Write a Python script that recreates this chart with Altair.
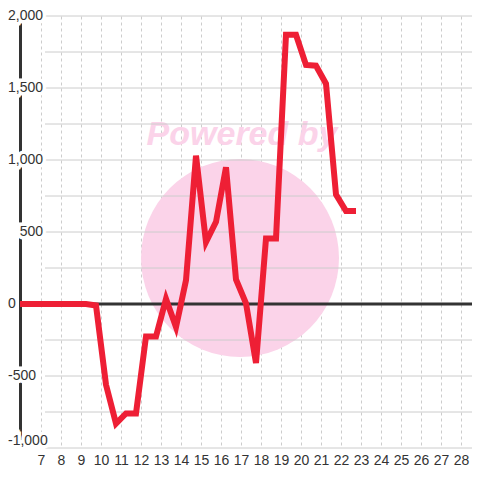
import altair as alt
import pandas as pd

# ---- data ----
x_vals = [5.95, 6.75, 7.25, 7.75, 8.25, 8.75, 9.25,
          9.75, 10.25, 10.75, 11.25, 11.75, 12.25, 12.75, 13.25, 13.75,
          14.25, 14.75, 15.25, 15.75, 16.25, 16.75, 17.25, 17.75, 18.25,
          18.75, 19.25, 19.75, 20.25, 20.75, 21.25, 21.75, 22.25, 22.75]
y_vals = [0, 0, 0, 0, 0, 0, 0,
          -10, -560, -830, -760, -760, -225, -225, 35, -160,
          165, 1030, 430, 570, 950, 170, 5, -410, 455,
          455, 1870, 1870, 1660, 1655, 1530, 760, 645, 645]

x_ticks = list(range(7, 29))
y_grid = [-1000, -750, -500, -250, 0, 250, 500, 750, 1000, 1250, 1500, 1750, 2000]
pos_label_vals = [2000, 1500, 1000, 500]
pos_label_text = ["2,000", "1,500", "1,000", "500"]
zero_label_vals = [0]
zero_label_text = ["0"]
neg_label_vals = [-500]
neg_label_text = ["-500"]
min_label_vals = [-1000]
min_label_text = ["-1,000"]
watermark_text = ["Powered by"]

W, H = 452, 432
FONT = "Liberation Sans"
RED = "#ee1f35"
PINK = "#fbd3e9"
TXT = "#333333"

xs = alt.Scale(domain=[5.95, 28.55], nice=False, zero=False)
ys = alt.Scale(domain=[-1000, 2000], nice=False, zero=False)

line_df = pd.DataFrame({"x": x_vals, "y": y_vals})
grid_df = pd.DataFrame({"g": y_grid})
zero_df = pd.DataFrame({"z": [0]})
wm_df = pd.DataFrame({"t": watermark_text})

circle = alt.Chart(wm_df).mark_point(
    filled=True, size=39200, color=PINK, opacity=1, shape="circle"
).encode(x=alt.value(220), y=alt.value(242))

powered = alt.Chart(wm_df).mark_text(
    font=FONT, fontSize=34, fontWeight="bold", fontStyle="italic",
    color=PINK, align="center", baseline="alphabetic"
).encode(x=alt.value(222), y=alt.value(129), text="t:N")

grid = alt.Chart(grid_df).mark_rule(color="#cccccc", strokeWidth=1).encode(
    y=alt.Y("g:Q", scale=ys, title=""),
    x=alt.value(25), x2=alt.value(W),
)

zero = alt.Chart(zero_df).mark_rule(color="#333333", strokeWidth=3).encode(
    y=alt.Y("z:Q", scale=ys, title=""),
    x=alt.value(0), x2=alt.value(W),
)

line = alt.Chart(line_df).mark_line(
    color=RED, strokeWidth=6, strokeJoin="miter"
).encode(
    x=alt.X("x:Q", scale=xs, title="",
            axis=alt.Axis(values=x_ticks, grid=True, gridDash=[3, 3],
                          gridColor="#cccccc", domain=False, ticks=False,
                          labelFontSize=14, labelFont=FONT, labelColor=TXT,
                          labelPadding=5)),
    y=alt.Y("y:Q", scale=ys, title=""),
)


def label_layers(vals, texts, xpos, align, baseline):
    df = pd.DataFrame({"v": vals, "t": texts})
    halo = alt.Chart(df).mark_text(
        font=FONT, fontSize=14, align=align, baseline=baseline,
        color="white", stroke="white", strokeWidth=7
    ).encode(x=alt.value(xpos), y=alt.Y("v:Q", scale=ys, title=""), text="t:N")
    txt = alt.Chart(df).mark_text(
        font=FONT, fontSize=14, align=align, baseline=baseline, color=TXT
    ).encode(x=alt.value(xpos), y=alt.Y("v:Q", scale=ys, title=""), text="t:N")
    return halo, txt


h1, t1 = label_layers(pos_label_vals, pos_label_text, 23, "right", "middle")
h2, t2 = label_layers(zero_label_vals, zero_label_text, -12, "left", "middle")
h3, t3 = label_layers(neg_label_vals, neg_label_text, -12, "left", "middle")
h4, t4 = label_layers(min_label_vals, min_label_text, -12, "left", "bottom")

chart = alt.layer(circle, powered, grid, zero, h1, h3, h4, line,
                  t1, t2, t3, t4).properties(
    width=W, height=H,
    autosize=alt.AutoSizeParams(type="none"),
    padding={"left": 12, "top": 8, "right": 0, "bottom": 24},
    background="white",
).configure_axisY(
    labels=False, ticks=False, grid=False, domain=True,
    domainColor="#333333", domainWidth=3,
).configure_view(stroke=None)

chart.save("out.html", embed_options={"renderer": "svg", "actions": False})
